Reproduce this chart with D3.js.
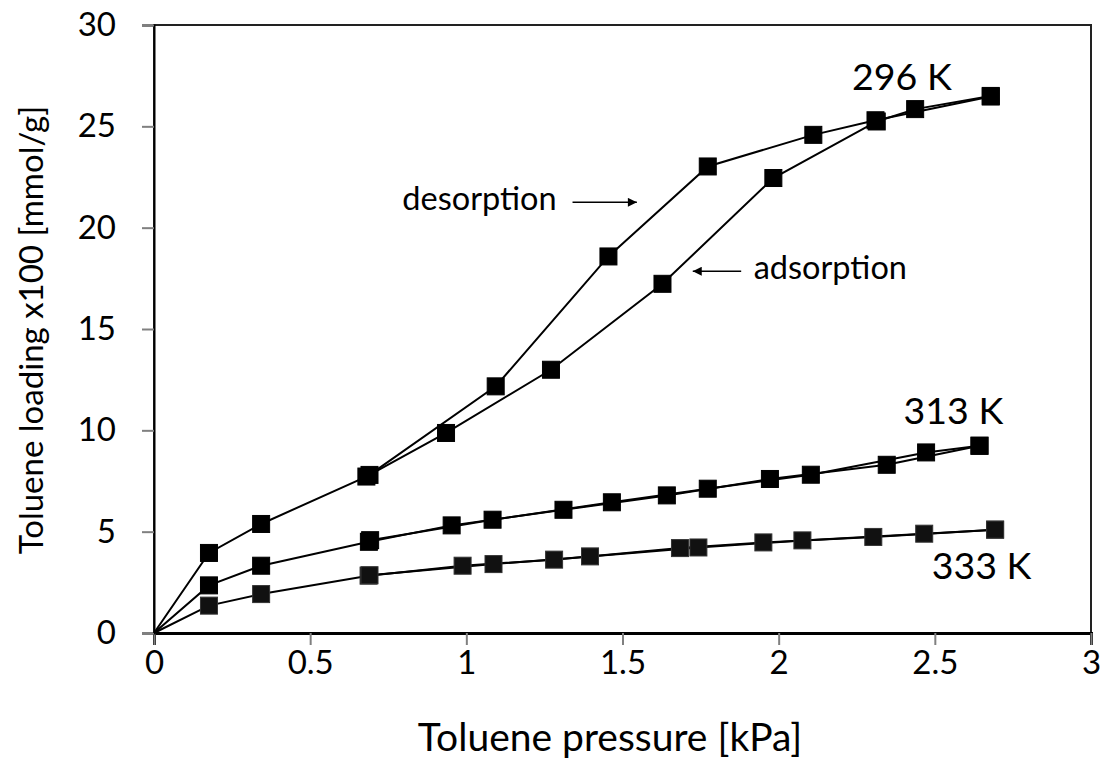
<!DOCTYPE html>
<html>
<head>
<meta charset="utf-8">
<script src="https://cdn.jsdelivr.net/npm/d3@7"></script>
<style>
  html, body { margin: 0; padding: 0; background: #fff; }
  svg { display: block; font-family: Lato, "Open Sans", sans-serif; }
</style>
</head>
<body>
<svg id="chart" width="1104" height="759"></svg>
<script>
// Toluene isotherms: pressure [kPa] vs loading x100 [mmol/g]
const xTicks = [0, 0.5, 1, 1.5, 2, 2.5, 3];
const yTicks = [0, 5, 10, 15, 20, 25, 30];

const ads296 = [[0, 0], [0.176, 3.95], [0.343, 5.38], [0.68, 7.72], [0.935, 9.87], [1.271, 12.99], [1.628, 17.23], [1.983, 22.45], [2.314, 25.24], [2.437, 25.85], [2.679, 26.5]];
const des296 = [[2.679, 26.47], [2.31, 25.3], [2.111, 24.58], [1.773, 23.02], [1.455, 18.58], [1.094, 12.17], [0.69, 7.8]];

const ads313 = [[0, 0], [0.176, 2.35], [0.343, 3.32], [0.688, 4.5], [0.953, 5.31], [1.311, 6.08], [1.642, 6.79], [1.972, 7.6], [2.346, 8.3], [2.643, 9.24]];
const des313 = [[2.643, 9.24], [2.472, 8.91], [2.103, 7.81], [1.773, 7.12], [1.466, 6.45], [1.084, 5.59], [0.692, 4.58]];

const ads333 = [[0, 0], [0.176, 1.35], [0.343, 1.92], [0.687, 2.83], [0.988, 3.32], [1.281, 3.62], [1.684, 4.19], [1.951, 4.47], [2.303, 4.74], [2.693, 5.1]];
const des333 = [[2.693, 5.1], [2.466, 4.9], [2.076, 4.57], [1.743, 4.22], [1.396, 3.78], [1.087, 3.4], [0.69, 2.85]];

const series = [
  { data: ads296, fill: "#000", stroke: "#000" },
  { data: des296, fill: "#000", stroke: "#000" },
  { data: ads313, fill: "#000", stroke: "#000" },
  { data: des313, fill: "#000", stroke: "#000" },
  { data: ads333, fill: "#111", stroke: "#333" },
  { data: des333, fill: "#111", stroke: "#333" }
];

const svg = d3.select("#chart");
const plotLeft = 154, plotRight = 1091, plotTop = 25, plotBottom = 633;

const x = d3.scaleLinear().domain([0, 3]).range([plotLeft, plotRight]);
const y = d3.scaleLinear().domain([0, 30]).range([plotBottom, plotTop]);

// plot frame
svg.append("rect")
  .attr("x", plotLeft).attr("y", plotTop)
  .attr("width", plotRight - plotLeft).attr("height", plotBottom - plotTop)
  .attr("fill", "none").attr("stroke", "#222").attr("stroke-width", 2);

// axes
const xAxis = svg.append("g")
  .attr("transform", `translate(0,${plotBottom})`)
  .call(d3.axisBottom(x).tickValues(xTicks).tickSize(12).tickPadding(6).tickFormat(d3.format("")));
const yAxis = svg.append("g")
  .attr("transform", `translate(${plotLeft},0)`)
  .call(d3.axisLeft(y).tickValues(yTicks).tickSize(12).tickPadding(26).tickFormat(d3.format("")));

xAxis.select(".domain").attr("stroke", "#000").attr("stroke-width", 3);
yAxis.select(".domain").attr("stroke", "#000").attr("stroke-width", 2);
[xAxis, yAxis].forEach(g => {
  g.selectAll(".tick line").attr("stroke", "#808080").attr("stroke-width", 2);
  g.selectAll(".tick text").attr("fill", "#000").attr("font-size", 33).attr("font-family", "Lato");
});

// lines and square markers
const line = d3.line().x(d => x(d[0])).y(d => y(d[1]));
const ms = 17;
series.forEach(s => {
  svg.append("path")
    .datum(s.data)
    .attr("d", line)
    .attr("fill", "none")
    .attr("stroke", "#000")
    .attr("stroke-width", 2);
});
series.forEach(s => {
  svg.append("g").selectAll("rect")
    .data(s.data.filter(d => d[0] > 0))
    .join("rect")
    .attr("x", d => x(d[0]) - ms / 2)
    .attr("y", d => y(d[1]) - ms / 2)
    .attr("width", ms).attr("height", ms)
    .attr("fill", s.fill)
    .attr("stroke", s.stroke)
    .attr("stroke-width", 1);
});

// axis titles
svg.append("text")
  .attr("x", 610).attr("y", 751)
  .attr("text-anchor", "middle")
  .attr("font-size", 39)
  .text("Toluene pressure [kPa]");
svg.append("text")
  .attr("transform", "translate(43,330) rotate(-90)")
  .attr("text-anchor", "middle")
  .attr("font-size", 33)
  .text("Toluene loading x100 [mmol/g]");

// temperature labels
const tempLabels = [
  { t: "296 K", px: 2.235, py: 26.8 },
  { t: "313 K", px: 2.4, py: 10.3 },
  { t: "333 K", px: 2.49, py: 2.65 }
];
svg.append("g").selectAll("text")
  .data(tempLabels)
  .join("text")
  .attr("x", d => x(d.px))
  .attr("y", d => y(d.py))
  .attr("font-size", 37.5)
  .text(d => d.t);

// branch annotations with arrows
svg.append("defs").append("marker")
  .attr("id", "arrow")
  .attr("viewBox", "0 0 10 10")
  .attr("refX", 10).attr("refY", 5)
  .attr("markerWidth", 6.5).attr("markerHeight", 6)
  .attr("markerUnits", "strokeWidth")
  .attr("orient", "auto")
  .append("path").attr("d", "M0,0 L10,5 L0,10 Z").attr("fill", "#000");

svg.append("text")
  .attr("x", x(0.795)).attr("y", y(20.85))
  .attr("font-size", 32.5)
  .text("desorption");
svg.append("line")
  .attr("x1", x(1.34)).attr("y1", y(21.25))
  .attr("x2", x(1.546)).attr("y2", y(21.25))
  .attr("stroke", "#000").attr("stroke-width", 1.5)
  .attr("marker-end", "url(#arrow)");

svg.append("text")
  .attr("x", x(1.92)).attr("y", y(17.45))
  .attr("font-size", 32.5)
  .text("adsorption");
svg.append("line")
  .attr("x1", x(1.88)).attr("y1", y(17.85))
  .attr("x2", x(1.725)).attr("y2", y(17.85))
  .attr("stroke", "#000").attr("stroke-width", 1.5)
  .attr("marker-end", "url(#arrow)");
</script>
</body>
</html>
